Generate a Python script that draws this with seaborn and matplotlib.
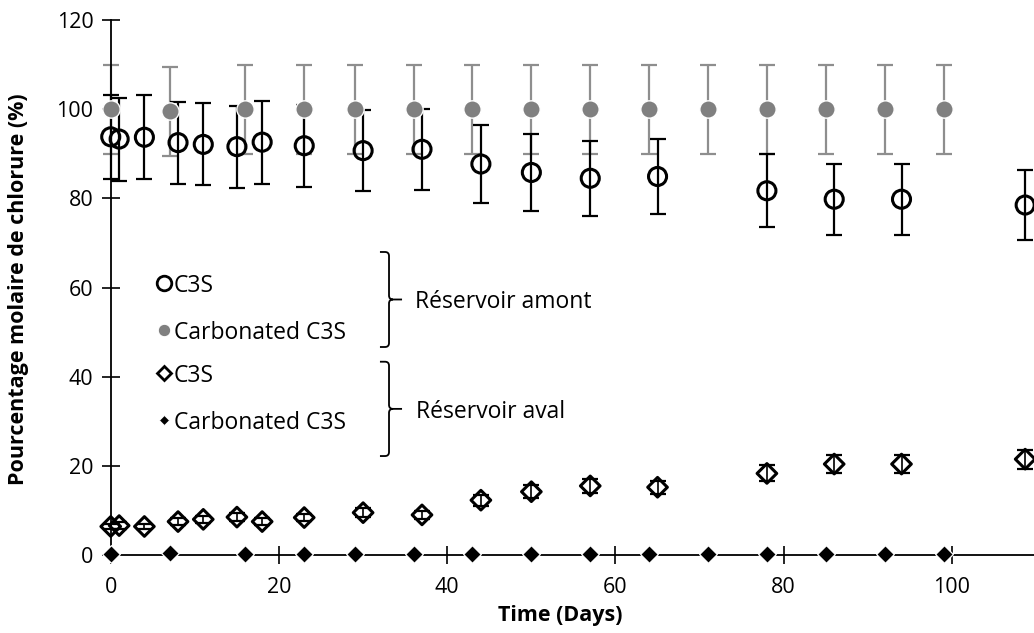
import matplotlib
matplotlib.use("Agg")
import matplotlib.pyplot as plt
from matplotlib.path import Path
from matplotlib.patches import PathPatch
from matplotlib.lines import Line2D
import seaborn as sns

# ---- data -------------------------------------------------------------
# C3S, upstream reservoir (réservoir amont) and downstream (réservoir aval)
days_c3s = [0, 1, 4, 8, 11, 15, 18, 23, 30, 37, 44, 50, 57, 65, 78, 86, 94, 108.7]
amont_c3s = [93.8, 93.3, 93.7, 92.5, 92.1, 91.6, 92.6, 91.8, 90.7, 91.0,
             87.7, 85.8, 84.5, 84.9, 81.7, 79.8, 79.8, 78.5]
amont_c3s_err = [9.4, 9.3, 9.4, 9.2, 9.2, 9.2, 9.3, 9.2, 9.1, 9.1,
                 8.8, 8.6, 8.4, 8.5, 8.2, 8.0, 8.0, 7.8]
aval_c3s = [6.4, 6.6, 6.4, 7.5, 8.0, 8.5, 7.5, 8.4, 9.5, 9.0,
            12.3, 14.2, 15.5, 15.2, 18.3, 20.4, 20.4, 21.5]
aval_c3s_err = [0.6, 0.7, 0.6, 0.8, 0.8, 0.9, 0.8, 0.8, 1.0, 0.9,
                1.2, 1.4, 1.6, 1.5, 1.8, 2.0, 2.0, 2.1]

# Carbonated C3S
days_carb = [0, 7, 16, 23, 29, 36, 43, 50, 57, 64, 71, 78, 85, 92, 99]
amont_carb = [100, 99.5, 100, 100, 100, 100, 100, 100, 100, 100, 100, 100, 100, 100, 100]
amont_carb_err = [10, 10, 10, 10, 10, 10, 10, 10, 10, 10, 10, 10, 10, 10, 10]
aval_carb = [0.3, 0.4, 0.2, 0.2, 0.2, 0.2, 0.2, 0.2, 0.2, 0.2, 0.2, 0.2, 0.2, 0.2, 0.2]

x_ticks = [0, 20, 40, 60, 80, 100]
y_ticks = [0, 20, 40, 60, 80, 100, 120]

series_labels = ["C3S", "Carbonated C3S", "C3S", "Carbonated C3S"]
group_labels = ["Réservoir amont", "Réservoir aval"]

# ---- style ------------------------------------------------------------
sns.set_theme(style="ticks")
plt.rcParams["font.family"] = ["Open Sans", "DejaVu Sans"]

GRAY = "#808080"
GRAY_BAR = "#8e8e8e"
FIG_W, FIG_H = 1034, 633

fig = plt.figure(figsize=(FIG_W / 100, FIG_H / 100), dpi=100)
ax_box = [0.1071, 0.1232, 0.8929, 0.8452]
ax = fig.add_axes(ax_box)


def no_clip(container):
    for art in container.get_children():
        art.set_clip_on(False)


# error bars sit beneath every marker
no_clip(ax.errorbar(days_carb, amont_carb, yerr=amont_carb_err, fmt="none",
                    ecolor=GRAY_BAR, elinewidth=1.6, capsize=6, capthick=1.6, zorder=2))
no_clip(ax.errorbar(days_c3s, amont_c3s, yerr=amont_c3s_err, fmt="none",
                    ecolor="black", elinewidth=1.6, capsize=6, capthick=1.6, zorder=2))
no_clip(ax.errorbar(days_c3s, aval_c3s, yerr=aval_c3s_err, fmt="none",
                    ecolor="black", elinewidth=1.2, capsize=6, capthick=1.6, zorder=2))

# markers
sns.scatterplot(x=days_carb, y=amont_carb, marker="o", s=12.5 ** 2, color=GRAY,
                edgecolor="white", linewidth=1.0, ax=ax, zorder=4, clip_on=False)
sns.scatterplot(x=days_c3s, y=amont_c3s, marker="o", s=13 ** 2, facecolors="none",
                edgecolor="black", linewidth=2.2, ax=ax, zorder=5, clip_on=False)
sns.scatterplot(x=days_c3s, y=aval_c3s, marker="D", s=10 ** 2, facecolors="none",
                edgecolor="black", linewidth=2.2, ax=ax, zorder=5, clip_on=False)
sns.scatterplot(x=days_carb, y=aval_carb, marker="D", s=9 ** 2, color="black",
                edgecolor="white", linewidth=0.9, ax=ax, zorder=5, clip_on=False)

# ---- axes -------------------------------------------------------------
ax.set_xlim(0, 109.75)
ax.set_ylim(0, 120)
ax.set_xticks(x_ticks)
ax.set_yticks(y_ticks)
ax.set_xticklabels([str(v) for v in x_ticks])
ax.set_yticklabels([str(v) for v in y_ticks])
ax.tick_params(axis="both", direction="inout", length=13, width=1.2, color="black",
               labelsize=15.5, labelcolor="black")
ax.tick_params(axis="y", pad=6)
ax.tick_params(axis="x", pad=9)
for side in ("top", "right"):
    ax.spines[side].set_visible(False)
for side in ("left", "bottom"):
    ax.spines[side].set_color("black")
    ax.spines[side].set_linewidth(1.3)
ax.grid(False)

ax.set_xlabel("Time (Days)", fontsize=15.5, fontweight="bold", color="black")
ax.set_ylabel("Pourcentage molaire de chlorure (%)", fontsize=15.5,
              fontweight="bold", color="black")
ax.xaxis.set_label_coords(0.4866, -0.094)
ax.yaxis.set_label_coords(-0.089, 0.497)

# ---- in-plot key --------------------------------------------------------
px_x = 1.0 / (FIG_W * ax_box[2])   # one pixel as an axes fraction (x)
px_y = 1.0 / (FIG_H * ax_box[3])   # one pixel as an axes fraction (y)

key_styles = [
    dict(marker="o", markersize=10.5, markerfacecolor="none", markeredgecolor="black", markeredgewidth=2.0),
    dict(marker="o", markersize=9, markerfacecolor=GRAY, markeredgecolor="white", markeredgewidth=0.8),
    dict(marker="D", markersize=7, markerfacecolor="none", markeredgecolor="black", markeredgewidth=2.0),
    dict(marker="D", markersize=5.5, markerfacecolor="black", markeredgecolor="white", markeredgewidth=0.6),
]
key_y = [0.509, 0.4206, 0.3396, 0.2523]
key_x, text_x = 0.0582, 0.0684
for label, yk, st in zip(series_labels, key_y, key_styles):
    ax.add_line(Line2D([key_x], [yk], transform=ax.transAxes, clip_on=False, **st))
    ax.text(text_x, yk, label, transform=ax.transAxes, fontsize=16.5,
            ha="left", va="center_baseline", color="black")


def brace(y_top, y_bot, x_left=0.2916, x_line=0.3014, x_tip=0.3155, r_px=4.0):
    rx, ry = r_px * px_x, r_px * px_y
    y_mid = 0.5 * (y_top + y_bot)
    verts = [
        (x_left, y_top), (x_line - rx, y_top),
        (x_line, y_top), (x_line, y_top - ry),
        (x_line, y_mid + ry),
        (x_line, y_mid), (x_line + rx, y_mid),
        (x_tip, y_mid),
        (x_line + rx, y_mid),
        (x_line, y_mid), (x_line, y_mid - ry),
        (x_line, y_bot + ry),
        (x_line, y_bot), (x_line - rx, y_bot),
        (x_left, y_bot),
    ]
    codes = [Path.MOVETO, Path.LINETO,
             Path.CURVE3, Path.CURVE3,
             Path.LINETO,
             Path.CURVE3, Path.CURVE3,
             Path.LINETO,
             Path.MOVETO,
             Path.CURVE3, Path.CURVE3,
             Path.LINETO,
             Path.CURVE3, Path.CURVE3,
             Path.LINETO]
    ax.add_patch(PathPatch(Path(verts, codes), facecolor="none", edgecolor="black",
                           linewidth=1.3, transform=ax.transAxes, clip_on=False))
    return y_mid


mid1 = brace(0.5664, 0.3888)
mid2 = brace(0.3613, 0.1850)
ax.text(0.3296, mid1, group_labels[0], transform=ax.transAxes, fontsize=16.5,
        ha="left", va="center_baseline", color="black")
ax.text(0.3310, mid2, group_labels[1], transform=ax.transAxes, fontsize=16.5,
        ha="left", va="center_baseline", color="black")

fig.savefig("out.png", dpi=100, facecolor="white")
